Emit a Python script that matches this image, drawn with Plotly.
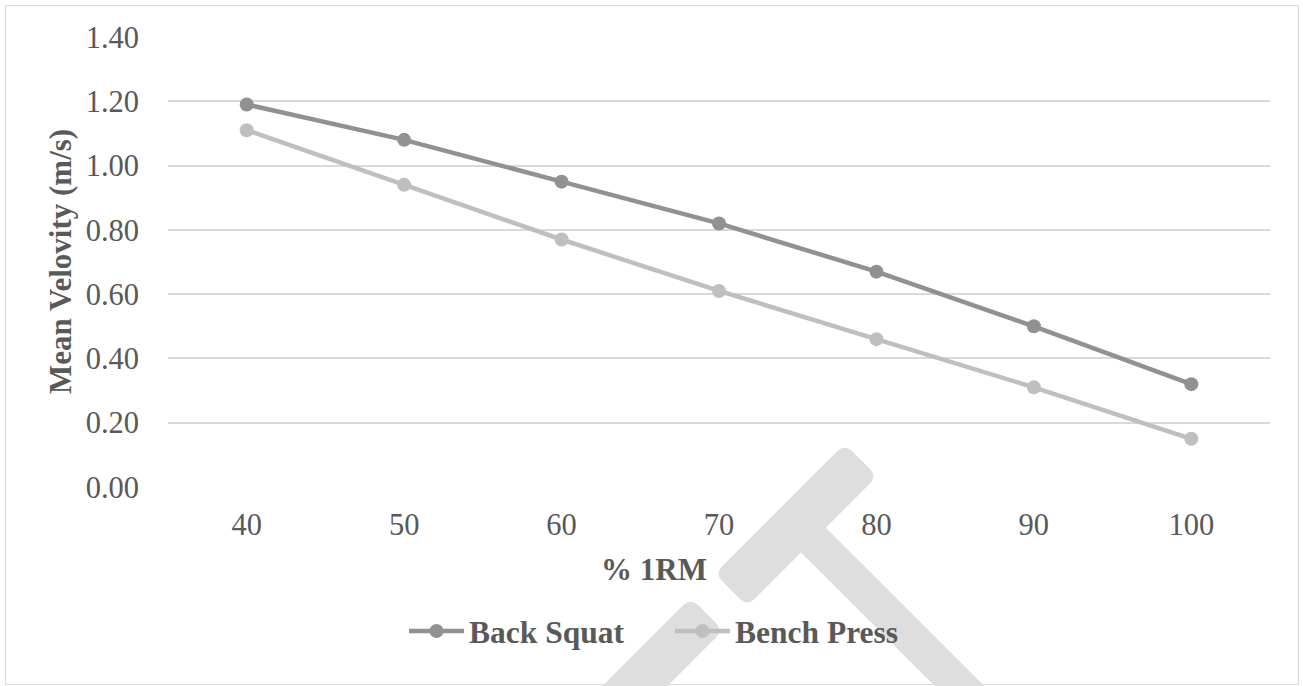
import plotly.graph_objects as go
import math

# ---- data ----
pct_1rm = ["40", "50", "60", "70", "80", "90", "100"]
back_squat = [1.19, 1.08, 0.95, 0.82, 0.67, 0.50, 0.32]
bench_press = [1.11, 0.94, 0.77, 0.61, 0.46, 0.31, 0.15]
y_ticks = [0, 0.2, 0.4, 0.6, 0.8, 1.0, 1.2, 1.4]
y_tick_text = ["0.00", "0.20", "0.40", "0.60", "0.80", "1.00", "1.20", "1.40"]

# ---- layout geometry (target screen pixels) ----
FW, FH = 1303, 686
L, R, T, B = 168, 1270, 37, 487
PW, PH = R - L, B - T

def px(x):
    return (x - L) / PW

def py(y):
    return (B - y) / PH

FONT = "Liberation Serif, Times New Roman, serif"
TXT = "#595959"
GRID = "#d9d9d9"

fig = go.Figure()
fig.add_trace(go.Scatter(
    x=pct_1rm, y=back_squat, name="Back Squat", mode="lines+markers",
    line=dict(color="#919191", width=4.5), marker=dict(size=14, color="#919191"),
))
fig.add_trace(go.Scatter(
    x=pct_1rm, y=bench_press, name="Bench Press", mode="lines+markers",
    line=dict(color="#bfbfbf", width=4.5), marker=dict(size=14, color="#bfbfbf"),
))

# ---- watermark (decorative) ----
def rounded_poly(pts, rounded, r=10):
    n = len(pts)
    segs = []
    for i in range(n):
        p = pts[i]
        if not rounded[i]:
            segs.append(("L", p))
            continue
        a = pts[i - 1]
        b = pts[(i + 1) % n]
        da = (a[0] - p[0], a[1] - p[1]); la = math.hypot(*da)
        db = (b[0] - p[0], b[1] - p[1]); lb = math.hypot(*db)
        p1 = (p[0] + da[0] / la * r, p[1] + da[1] / la * r)
        p2 = (p[0] + db[0] / lb * r, p[1] + db[1] / lb * r)
        segs.append(("L", p1))
        segs.append(("Q", p, p2))
    path = ""
    for k, s in enumerate(segs):
        if s[0] == "L":
            cmd = "M" if k == 0 else "L"
            path += f"{cmd}{px(s[1][0]):.5f},{py(s[1][1]):.5f} "
        else:
            path += f"Q{px(s[1][0]):.5f},{py(s[1][1]):.5f} {px(s[2][0]):.5f},{py(s[2][1]):.5f} "
    return path + "Z"

def bar(p_start, p_end, hw):
    dx, dy = p_end[0] - p_start[0], p_end[1] - p_start[1]
    ln = math.hypot(dx, dy)
    nx, ny = -dy / ln * hw, dx / ln * hw
    return [(p_start[0] + nx, p_start[1] + ny), (p_end[0] + nx, p_end[1] + ny),
            (p_end[0] - nx, p_end[1] - ny), (p_start[0] - nx, p_start[1] - ny)]

WM = "#dedede"
C = 1321
top_bar = bar((731, C - 731), (861, C - 861), 23)
stem_start = ((C + 273.5) / 2, (C - 273.5) / 2)
stem = bar(stem_start, (993.5 + 30, 720 + 30), 17.5)
low_bar = bar((707, C - 707), (560, C - 560), 23)
shapes = [
    dict(type="path", path=rounded_poly(top_bar, [True] * 4, 11), xref="paper", yref="paper",
         fillcolor=WM, line=dict(width=0), layer="above"),
    dict(type="path", path=rounded_poly(stem, [False] * 4), xref="paper", yref="paper",
         fillcolor=WM, line=dict(width=0), layer="above"),
    dict(type="path", path=rounded_poly(low_bar, [True, False, False, True], 11), xref="paper", yref="paper",
         fillcolor=WM, line=dict(width=0), layer="above"),
    # outer chart border
    dict(type="rect", xref="paper", yref="paper", x0=px(5.5), x1=px(1298.5), y0=py(684.5), y1=py(5.5),
         line=dict(color=GRID, width=1.2), layer="below"),
]

fig.update_layout(
    width=FW, height=FH,
    margin=dict(l=L, r=FW - R, t=T, b=FH - B, pad=0),
    paper_bgcolor="white", plot_bgcolor="rgba(0,0,0,0)",
    font=dict(family=FONT, color=TXT, size=30),
    showlegend=True,
    legend=dict(orientation="h", x=px(404), xanchor="left", y=py(631), yanchor="middle",
                font=dict(family=FONT, size=31.5, color=TXT, weight="bold"),
                itemwidth=55, entrywidth=196, bgcolor="rgba(0,0,0,0)", tracegroupgap=0),
    xaxis=dict(type="category", range=[-0.5, 6.5], showgrid=False, zeroline=False,
               showline=False, ticks="", tickfont=dict(size=30.5, color=TXT),
               ticklabelstandoff=16, fixedrange=True),
    yaxis=dict(range=[0, 1.4], tickvals=y_ticks, ticktext=y_tick_text, showgrid=True,
               gridcolor=GRID, gridwidth=1.5, zeroline=False, showline=False, ticks="",
               tickfont=dict(size=30.5, color=TXT), ticklabelstandoff=28, fixedrange=True),
    shapes=shapes,
    annotations=[
        dict(text="% 1RM", xref="paper", yref="paper", x=px(654), y=py(569), showarrow=False,
             xanchor="center", yanchor="middle", font=dict(family=FONT, size=31, color=TXT, weight="bold")),
        dict(text="Mean Velovity (m/s)", xref="paper", yref="paper", x=px(60), y=py(262),
             showarrow=False, textangle=-90, xanchor="center", yanchor="middle",
             font=dict(family=FONT, size=31, color=TXT, weight="bold")),
    ],
)

fig.write_html("out.html", config={"displayModeBar": False},
               post_script="document.body.style.margin='0';document.body.style.overflow='hidden';")
